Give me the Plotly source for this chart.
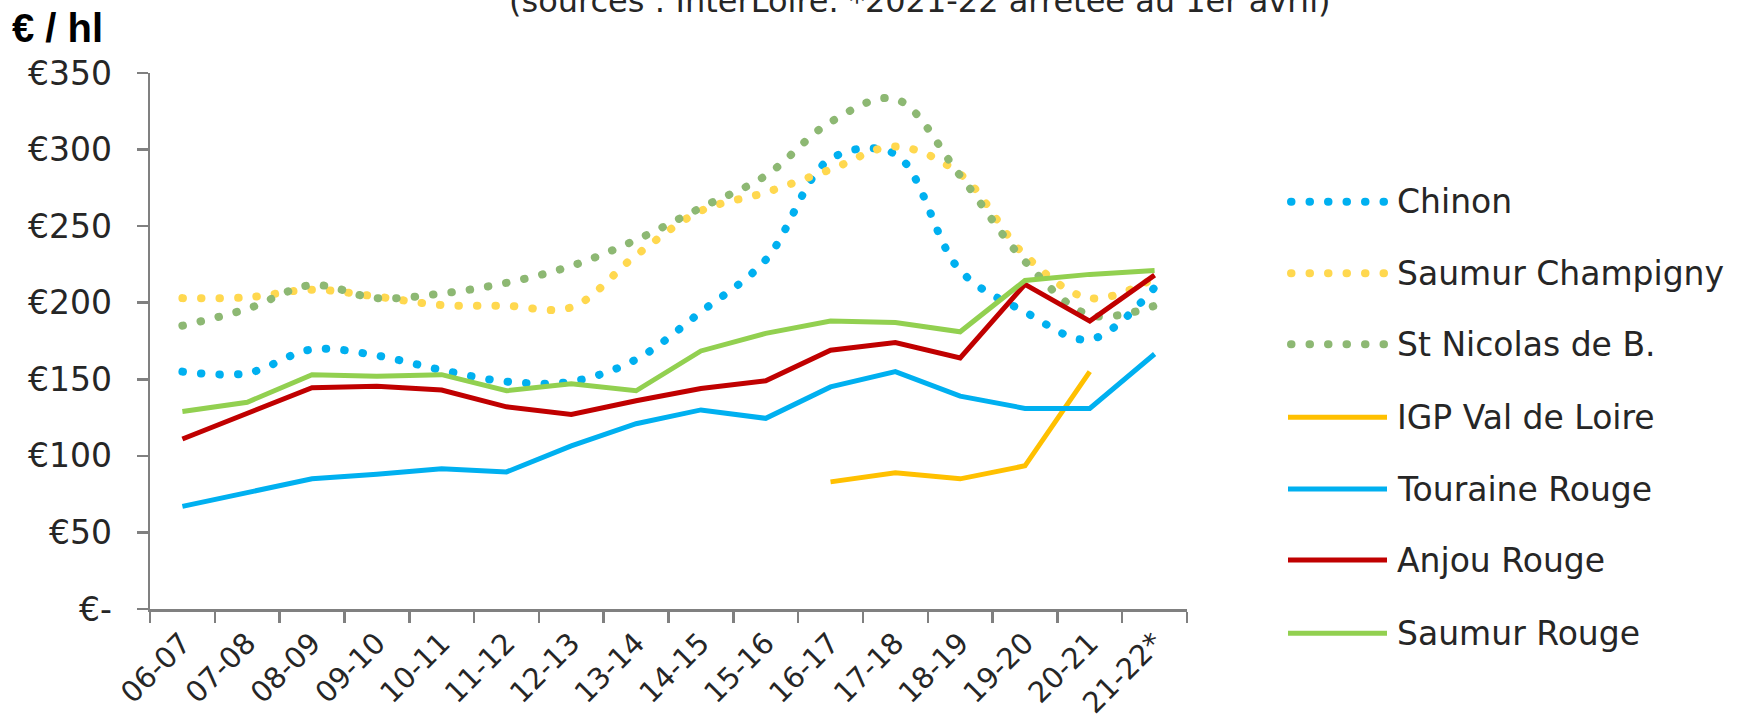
import plotly.graph_objects as go

# ---------------- data ----------------
seasons = ["06-07", "07-08", "08-09", "09-10", "10-11", "11-12", "12-13", "13-14",
           "14-15", "15-16", "16-17", "17-18", "18-19", "19-20", "20-21", "21-22*"]

chinon = [155, 154, 169.5, 165.5, 156, 148.5, 148.5, 163, 194, 228, 294, 297, 221, 194, 176, 210]
saumur_champigny = [203, 203.5, 208.5, 204, 198.5, 198, 197, 231, 260, 272, 287, 302, 284, 231, 203, 216]
st_nicolas = [185, 196, 211.5, 203, 206, 213, 224, 241, 262, 283, 318, 333, 283, 227, 192, 198]
igp_val_de_loire = [None, None, None, None, None, None, None, None, None, None, 83, 89, 85, 93.5, 155, None]
touraine_rouge = [67, 76, 85, 88, 91.5, 89.5, 106.5, 121, 130, 124.5, 145, 155, 139, 131, 131, 166.5]
anjou_rouge = [111, 128, 144.5, 145.5, 143, 132, 127, 136, 144, 149, 169, 174, 164, 212, 188, 218]
saumur_rouge = [129, 135, 153, 152, 153, 142.5, 147, 142.5, 168.5, 180, 188, 187, 181, 214.5, 218.5, 221]

y_tickvals = [0, 50, 100, 150, 200, 250, 300, 350]
y_ticktext = ["€-", "€50", "€100", "€150", "€200", "€250", "€300", "€350"]

title_text = "(sources : InterLoire. *2021-22 arrêtée au 1er avril)"
unit_text = "€ / hl"

# ---------------- styling ----------------
W, H = 1752, 723
L, R, T, B = 150, 565, 73, 114
PW, PH = W - L - R, H - T - B
FONT = "DejaVu Sans"
TXT = "#262626"
AX = "#808080"
DOT = "7px,11px"
SOLID_W = 5
DOT_W = 8

series = [
    ("Chinon", chinon, "#00B0F0", True),
    ("Saumur Champigny", saumur_champigny, "#FFD84F", True),
    ("St Nicolas de B.", st_nicolas, "#8DB873", True),
    ("IGP Val de Loire", igp_val_de_loire, "#FFC000", False),
    ("Touraine Rouge", touraine_rouge, "#00B0F0", False),
    ("Anjou Rouge", anjou_rouge, "#C00000", False),
    ("Saumur Rouge", saumur_rouge, "#92D050", False),
]


def px_x(p):
    return (p - L) / PW


def px_y(p):
    return (H - B - p) / PH


fig = go.Figure()
for name, vals, color, dotted in series:
    if dotted:
        line = dict(color=color, width=DOT_W, dash=DOT, shape="spline", smoothing=1)
    else:
        line = dict(color=color, width=SOLID_W)
    fig.add_trace(go.Scatter(x=seasons, y=vals, mode="lines", name=name,
                             line=line, showlegend=False, connectgaps=False,
                             hoverinfo="skip"))

# manual legend (long line symbols like the reference)
legend_y = [201.7, 273.3, 344.3, 417.3, 489, 560, 633.3]
shapes = []
annotations = []
for (name, vals, color, dotted), yp in zip(series, legend_y):
    if dotted:
        shapes.append(dict(type="line", xref="paper", yref="paper",
                           x0=px_x(1291), x1=px_x(1384), y0=px_y(yp), y1=px_y(yp),
                           line=dict(color=color, width=DOT_W, dash=DOT)))
    else:
        shapes.append(dict(type="line", xref="paper", yref="paper",
                           x0=px_x(1288), x1=px_x(1387), y0=px_y(yp), y1=px_y(yp),
                           line=dict(color=color, width=SOLID_W)))
    annotations.append(dict(text=name, xref="paper", yref="paper",
                            x=px_x(1395), y=px_y(yp), xanchor="left", yanchor="middle",
                            showarrow=False, font=dict(family=FONT, size=33, color=TXT)))

annotations.append(dict(text="<b>" + unit_text + "</b>", xref="paper", yref="paper",
                        x=px_x(10), y=px_y(28), xanchor="left", yanchor="middle",
                        showarrow=False,
                        font=dict(family="Liberation Sans, Arial", size=40, color="#000000")))
annotations.append(dict(text=title_text, xref="paper", yref="paper",
                        x=px_x(920), y=px_y(1), xanchor="center", yanchor="middle",
                        showarrow=False, font=dict(family=FONT, size=32, color=TXT)))

fig.update_layout(
    width=W, height=H, autosize=False,
    margin=dict(l=L, r=R, t=T, b=B, pad=0, autoexpand=False),
    paper_bgcolor="white", plot_bgcolor="white",
    shapes=shapes, annotations=annotations,
    showlegend=False,
    font=dict(family=FONT, size=32, color=TXT),
)
fig.update_xaxes(
    type="category", range=[-0.5, len(seasons) - 0.5], automargin=False,
    showgrid=False, zeroline=False,
    showline=True, linecolor=AX, linewidth=2.5,
    ticks="outside", tickson="boundaries", ticklen=11, tickwidth=2.5, tickcolor=AX,
    tickangle=-45, ticklabelstandoff=3,
    tickfont=dict(family=FONT, size=29, color=TXT),
)
fig.update_yaxes(
    range=[0, 350], tickvals=y_tickvals, ticktext=y_ticktext, automargin=False,
    showgrid=False, zeroline=False,
    showline=True, linecolor=AX, linewidth=2.5,
    ticks="outside", ticklen=11, tickwidth=2.5, tickcolor=AX,
    ticklabelstandoff=18,
    tickfont=dict(family=FONT, size=33, color=TXT),
)

post = """
document.body.style.margin = '0';
var gd = document.getElementById('{plot_id}');
gd.querySelectorAll('path').forEach(function(p){
  var d = p.style.strokeDasharray;
  if (d && d.indexOf('7px') === 0) {
    p.style.strokeLinecap = 'round';
    p.style.strokeDasharray = '0.5px, 18px';
  }
});
"""

fig.write_html("out.html", post_script=post, config={"staticPlot": True})
